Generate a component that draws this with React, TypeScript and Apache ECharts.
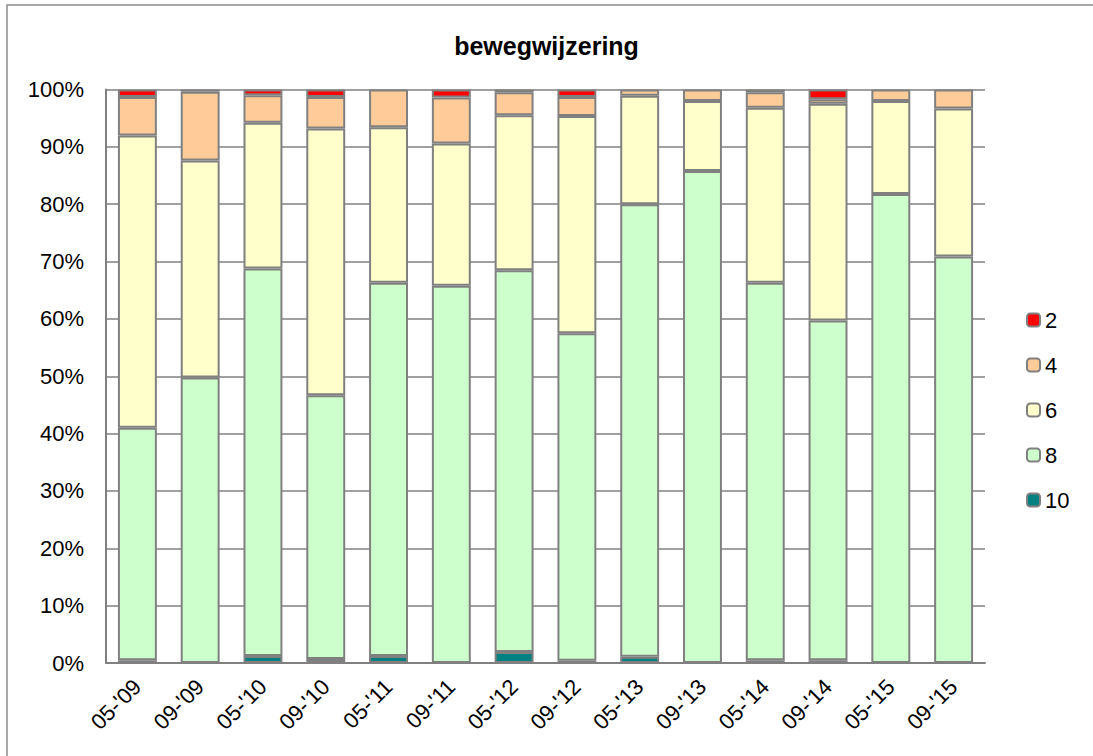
import React, { useEffect, useRef } from "react";
import * as echarts from "echarts";

const categories = ["05-'09", "09-'09", "05-'10", "09-'10", "05-'11", "09-'11", "05-'12", "09-'12", "05-'13", "09-'13", "05-'14", "09-'14", "05-'15", "09-'15"];
const s10 = [0.5, 0, 1.2, 0.7, 1.2, 0, 1.9, 0.4, 1.1, 0, 0.5, 0.5, 0, 0];
const s8 = [40.5, 49.8, 67.6, 46.0, 65.1, 65.8, 66.6, 57.1, 78.9, 85.8, 65.8, 59.2, 81.8, 70.9];
const s6 = [51.0, 37.8, 25.4, 46.5, 27.1, 24.8, 27.0, 37.9, 18.9, 12.2, 30.5, 37.8, 16.2, 25.8];
const s4 = [6.7, 12.0, 4.8, 5.5, 6.6, 8.0, 4.0, 3.3, 1.1, 2.0, 2.7, 0.8, 2.0, 3.3];
const s2 = [1.3, 0.4, 1.0, 1.3, 0, 1.4, 0.5, 1.3, 0, 0, 0.5, 1.7, 0, 0];
const seriesNames = ["10", "8", "6", "4", "2"];
const seriesColors = ["#008080", "#CCFFCC", "#FFFFCC", "#FFCC99", "#FF0000"];
const legendOrder = ["2", "4", "6", "8", "10"];

export default function App() {
  const ref = useRef<HTMLDivElement>(null);
  useEffect(() => {
    document.body.style.margin = "0";
    const chart = echarts.init(ref.current!, null, { renderer: "svg" });
    const data = [s10, s8, s6, s4, s2];
    const font = "Liberation Sans, Arial, sans-serif";
    chart.setOption({
      animation: false,
      backgroundColor: "#ffffff",
      textStyle: { fontFamily: font },
      title: {
        text: "bewegwijzering",
        left: "center",
        top: 28,
        textStyle: { fontSize: 25, fontWeight: "bold", color: "#000", fontFamily: font },
      },
      graphic: [
        {
          type: "rect",
          shape: { x: 7, y: 5, width: 1200, height: 900 },
          style: { fill: "none", stroke: "#8c8c8c", lineWidth: 1.5 },
          silent: true,
        },
      ],
      grid: { left: 106, right: 108, top: 89.5, bottom: 93 },
      legend: {
        orient: "vertical",
        left: 1021,
        top: 304,
        itemWidth: 13,
        itemHeight: 13,
        itemGap: 23,
        data: legendOrder,
        textStyle: { fontSize: 22, color: "#000", fontFamily: font },
      },
      xAxis: {
        type: "category",
        data: categories,
        axisLine: { lineStyle: { color: "#808080", width: 2 } },
        axisTick: { show: false },
        axisLabel: { rotate: 45, fontSize: 22, color: "#000", margin: 20, fontFamily: font },
      },
      yAxis: {
        type: "value",
        min: 0,
        max: 100,
        interval: 10,
        axisLine: { show: true, lineStyle: { color: "#808080", width: 2 } },
        axisTick: { show: false },
        axisLabel: { formatter: "{value}%", fontSize: 22, color: "#000", margin: 22, fontFamily: font },
        splitLine: { lineStyle: { color: "#a0a0a0", width: 2 } },
      },
      series: seriesNames.map((name, i) => ({
        name,
        type: "bar",
        stack: "total",
        barWidth: "62%",
        data: data[i].map((v) => (v === 0 ? null : v)),
        itemStyle: { color: seriesColors[i], borderColor: "#808080", borderWidth: 2 },
      })),
    });
    return () => chart.dispose();
  }, []);
  return <div ref={ref} style={{ position: "fixed", left: 0, top: 0, width: 1093, height: 756 }} />;
}
